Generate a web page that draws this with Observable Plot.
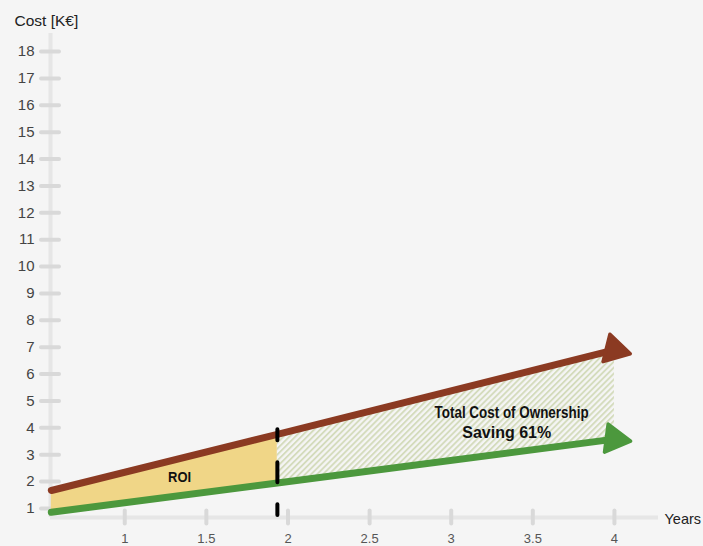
<!DOCTYPE html>
<html><head><meta charset="utf-8">
<script src="https://cdn.jsdelivr.net/npm/d3@7"></script>
<script src="https://cdn.jsdelivr.net/npm/@observablehq/plot@0.6"></script>
<style>
html,body{margin:0;padding:0;background:#f5f5f5;}
#chart svg{display:block;}
</style></head><body><div id="chart"></div>
<script>
// ---- data ----
const years = [0.55, 1.935, 4.0];
const conventionalCost = [1.67, 3.76, 6.9];   // brown series
const newCost = [0.86, 1.95, 3.58];           // green series
const roiYear = 1.935;
const yTicks = [1,2,3,4,5,6,7,8,9,10,11,12,13,14,15,16,17,18];
const xTicks = [1, 1.5, 2, 2.5, 3, 3.5, 4];
const xTickLabels = ["1", "1.5", "2", "2.5", "3", "3.5", "4"];
const yTitle = "Cost [K€]";
const xTitle = "Years";
const roiLabel = "ROI";
const tcoLabel = "Total Cost of Ownership";
const savingLabel = "Saving 61%";

// ---- layout ----
const xDomain = [0.545, 4.27], yDomain = [0.665, 18.67];
const W = 703, H = 546, mL = 50, mR = 45, mT = 33, mB = 29;
const pxX = (W - mL - mR) / (xDomain[1] - xDomain[0]);
const pxY = (H - mT - mB) / (yDomain[1] - yDomain[0]);

const rows = years.map((x, i) => ({x, red: conventionalCost[i], green: newCost[i]}));
const roiRows = rows.filter(d => d.x <= roiYear);
const tcoRows = rows.filter(d => d.x >= roiYear);
const last = rows[rows.length - 1], first = rows[0];
const angle = (key) => Math.atan2((last[key] - first[key]) * pxY, (last.x - first.x) * pxX) * 180 / Math.PI;

const RED = "#8b3a22", GREEN = "#4c983d", YELLOW = "#f0d687";

const plot = Plot.plot({
  width: W, height: H,
  marginLeft: mL, marginRight: mR, marginTop: mT, marginBottom: mB,
  style: {background: "#f5f5f5", fontFamily: "'Liberation Sans', Arial, sans-serif"},
  x: {domain: xDomain, axis: null},
  y: {domain: yDomain, axis: null},
  marks: [
    // axis lines
    Plot.ruleY([yDomain[0]], {x1: xDomain[0], x2: xDomain[1], stroke: "#e6e6e6", strokeWidth: 4}),
    Plot.ruleX([xDomain[0]], {y1: yDomain[0], y2: yDomain[1], stroke: "#e6e6e6", strokeWidth: 4}),
    // y ticks
    Plot.ruleY(yTicks, {x1: xDomain[0] - 9 / pxX, x2: xDomain[0] + 9 / pxX, stroke: "#d9d9d9", strokeWidth: 4, strokeLinecap: "round"}),
    // x ticks
    Plot.ruleX(xTicks, {y1: yDomain[0] + 6.5 / pxY, y2: yDomain[0] - 6.5 / pxY, stroke: "#d9d9d9", strokeWidth: 4, strokeLinecap: "round"}),
    // tick labels
    Plot.text(yTicks, {x: xDomain[0], y: d => d, text: d => String(d), dx: -16, textAnchor: "end", fontSize: 15, fill: "#444"}),
    Plot.text(xTicks, {x: d => d, y: yDomain[0], text: (d, i) => xTickLabels[i], dy: 25, lineAnchor: "bottom", fontSize: 13, fill: "#555"}),
    // areas
    Plot.areaY(roiRows, {x: "x", y1: "green", y2: "red", fill: YELLOW, curve: "linear"}),
    Plot.areaY(tcoRows, {x: "x", y1: "green", y2: "red", fill: "url(#hatch)", curve: "linear"}),
    // lines
    Plot.line(rows, {x: "x", y: "red", stroke: RED, strokeWidth: 7}),
    Plot.line(rows, {x: "x", y: "green", stroke: GREEN, strokeWidth: 7}),
    // arrow heads
    Plot.dot([last], {x: "x", y: "red", symbol: "triangle", r: 10.5, fill: RED, stroke: RED, strokeWidth: 3.5, strokeLinejoin: "round", rotate: 90 + angle("red")}),
    Plot.dot([last], {x: "x", y: "green", symbol: "triangle", r: 10.5, fill: GREEN, stroke: GREEN, strokeWidth: 3.5, strokeLinejoin: "round", rotate: 90 + angle("green")}),
    // dashed ROI divider
    Plot.ruleX([roiYear], {y1: 3.93, y2: 0.74, stroke: "#000", strokeWidth: 4, strokeDasharray: "20 22", strokeDashoffset: 9, strokeLinecap: "round"}),
    // labels
    Plot.text([roiLabel], {x: 1.336, y: 2.0, text: d => d, lineAnchor: "bottom", fontWeight: "bold", fontSize: 14, fill: "#111", className: "lbl-roi"}),
    Plot.text([tcoLabel], {x: 3.37, y: 4.35, text: d => d, lineAnchor: "bottom", fontWeight: "bold", fontSize: 16.5, fill: "#111", className: "lbl-tco"}),
    Plot.text([savingLabel], {x: 3.34, y: 3.64, text: d => d, lineAnchor: "bottom", fontWeight: "bold", fontSize: 16, fill: "#111", className: "lbl-saving"}),
    // axis titles
    Plot.text([yTitle], {frameAnchor: "top-left", text: d => d, dx: -36, dy: -8, lineAnchor: "bottom", textAnchor: "start", fontSize: 15.5, fill: "#222"}),
    Plot.text([xTitle], {x: xDomain[1], y: yDomain[0], text: d => d, dx: 6, dy: 6, lineAnchor: "bottom", textAnchor: "start", fontSize: 14.5, fill: "#222"})
  ]
});

// hatch pattern definition
const svg = d3.select(plot);
const defs = svg.insert("defs", ":first-child");
const pat = defs.append("pattern").attr("id", "hatch").attr("patternUnits", "userSpaceOnUse")
  .attr("width", 4.2).attr("height", 4.2).attr("patternTransform", "rotate(45)");
pat.append("rect").attr("width", 4.2).attr("height", 4.2).attr("fill", "#f5f5f5");
pat.append("line").attr("x1", 1).attr("y1", 0).attr("x2", 1).attr("y2", 4.2).attr("stroke", "#d2dab9").attr("stroke-width", 1.8);

// condensed look for the labels
svg.selectAll("g.lbl-tco text").attr("textLength", 154).attr("lengthAdjust", "spacingAndGlyphs");
svg.selectAll("g.lbl-roi text").attr("textLength", 23).attr("lengthAdjust", "spacingAndGlyphs");
svg.selectAll("g.lbl-saving text").attr("textLength", 89).attr("lengthAdjust", "spacingAndGlyphs");

document.getElementById("chart").appendChild(plot);
</script>
</body></html>
